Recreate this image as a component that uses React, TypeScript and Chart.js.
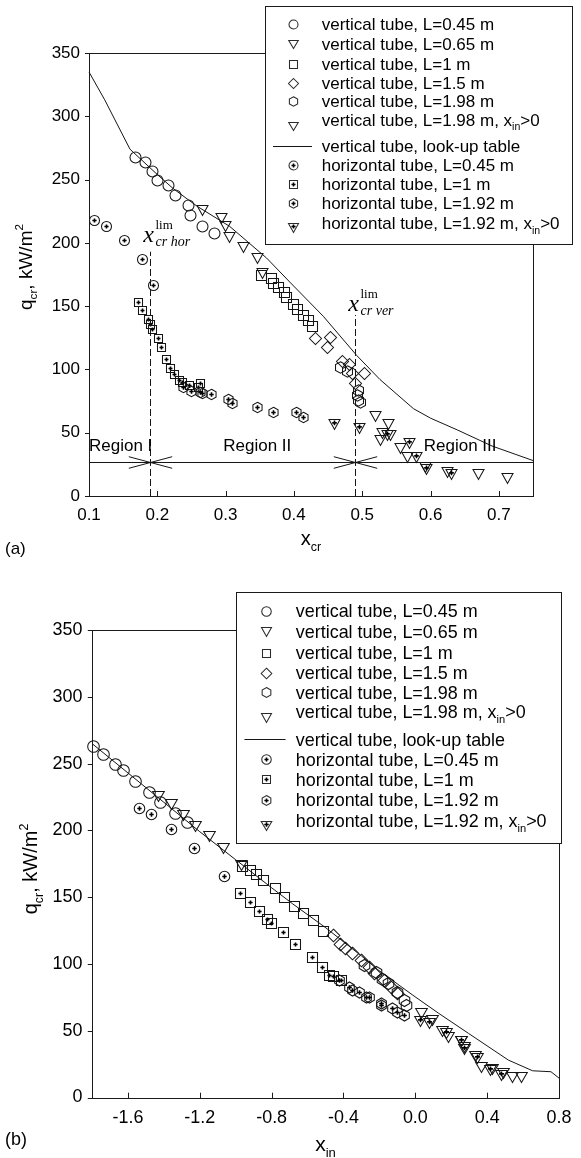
import React, { useEffect, useRef } from 'react';
import { Chart, registerables } from 'chart.js';

Chart.register(...registerables);

const SANS = '"Liberation Sans", Arial, Helvetica, sans-serif';
const SERIF = '"Liberation Serif", "DejaVu Serif", "Times New Roman", serif';
const INK = '#151515';

// ---------------- shared ----------------
const Y_TICKS = [0, 50, 100, 150, 200, 250, 300, 350];

// ---------------- panel (a): q_cr vs x_cr ----------------
const A_X_TICKS = [0.1, 0.2, 0.3, 0.4, 0.5, 0.6, 0.7];
const A_LOOKUP_X = [0.1, 0.123, 0.16, 0.2, 0.223, 0.258, 0.306, 0.36, 0.394, 0.443, 0.492, 0.526, 0.575, 0.6, 0.64, 0.69, 0.75];
const A_LOOKUP_Y = [335, 313, 274, 254, 243, 229, 213, 188, 169, 142, 111, 92, 69, 61.5, 52, 39.5, 28];
const A_V045_X = [0.167, 0.182, 0.192, 0.2, 0.216, 0.226, 0.245, 0.248, 0.266, 0.283];
const A_V045_Y = [268, 264, 257, 250, 246, 238, 230, 222, 213, 208];
const A_V065_X = [0.266, 0.293, 0.299, 0.305, 0.326, 0.346, 0.353];
const A_V065_Y = [226, 220, 213, 205, 197, 188, 176];
const A_V1_X = [0.352, 0.367, 0.37, 0.377, 0.385, 0.389, 0.399, 0.404, 0.414, 0.421, 0.426];
const A_V1_Y = [175, 172, 168, 165, 161, 157, 152, 148, 143, 139, 134];
const A_V15_X = [0.431, 0.448, 0.453, 0.47, 0.48, 0.485, 0.502, 0.49];
const A_V15_Y = [125, 118, 126, 107, 104, 97, 97, 89];
const A_V198_X = [0.468, 0.478, 0.494, 0.492, 0.494, 0.497];
const A_V198_Y = [102, 99, 84, 80, 76, 74.5];
const A_V198IN_X = [0.519, 0.537, 0.529, 0.541, 0.526, 0.556, 0.565, 0.592, 0.624, 0.67, 0.712];
const A_V198IN_Y = [63, 57, 50, 48, 44, 38, 31, 23, 19, 17, 14];
const A_H045_X = [0.107, 0.1245, 0.151, 0.177, 0.193];
const A_H045_Y = [218, 213, 202, 187, 167];
const A_H1_X = [0.172, 0.178, 0.1865, 0.189, 0.1915, 0.201, 0.205, 0.212, 0.218, 0.225, 0.232, 0.2356, 0.2465, 0.26, 0.263];
const A_H1_Y = [153.5, 147, 140, 136, 132, 125, 118, 108, 101, 96, 92, 90, 88, 86, 89];
const A_H192_X = [0.238, 0.25, 0.262, 0.265, 0.279, 0.303, 0.31, 0.346, 0.37, 0.403, 0.414];
const A_H192_Y = [86, 83, 82, 81, 80.6, 76.6, 73.2, 70, 66, 66, 62.7];
const A_H192IN_X = [0.458, 0.496, 0.536, 0.568, 0.578, 0.594, 0.63];
const A_H192IN_Y = [57, 54, 48, 42, 31, 21, 17];

const REGION_BOUNDS = [0.19, 0.49];
const REGION_LINE_Q = 27;
const REGION_LABELS = ['Region I', 'Region II', 'Region III'];
const REGION_LABEL_X = [0.1, 0.2965, 0.59];
const REGION_LABEL_Q = 39;
const LIM_TOP_Q = [193, 143];
const LIM_LABEL_Q = [200.5, 146];
const LIM_SUBS = ['cr hor', 'cr ver'];

// ---------------- panel (b): q_cr vs x_in ----------------
const B_X_TICKS = [-1.6, -1.2, -0.8, -0.4, 0, 0.4, 0.8];
const B_LOOKUP_X = [-1.8, -1.6, -1.4, -1.2, -1.0, -0.8, -0.683, -0.498, -0.3, -0.212, -0.018, 0.13, 0.296, 0.518, 0.653, 0.755, 0.8];
const B_LOOKUP_Y = [265, 243, 221, 199, 178, 157, 145, 127, 106, 96, 77, 63, 48, 28, 20, 19.3, 14.5];
const B_V045_X = [-1.794, -1.741, -1.674, -1.628, -1.56, -1.48, -1.421, -1.338, -1.273];
const B_V045_Y = [263, 257, 250, 245, 237, 228.5, 221.5, 213, 206];
const B_V065_X = [-1.43, -1.362, -1.292, -1.227, -1.15, -1.07, -0.968];
const B_V065_Y = [226, 220, 211.5, 203, 196, 187, 174];
const B_V1_X = [-0.963, -0.922, -0.885, -0.849, -0.784, -0.729, -0.673, -0.627, -0.572, -0.516];
const B_V1_Y = [173, 170, 167, 163, 157, 150, 143, 138, 133, 125];
const B_V15_X = [-0.461, -0.42, -0.39, -0.35, -0.304, -0.258, -0.23, -0.175, -0.137, -0.1];
const B_V15_Y = [122, 115, 112, 108, 103, 98, 93, 88, 83, 78];
const B_V198_X = [-0.285, -0.22, -0.184, -0.15, -0.1, -0.064, -0.054];
const B_V198_Y = [99, 94, 89, 86, 79, 73, 69];
const B_V198IN_X = [0.029, 0.093, 0.149, 0.18, 0.252, 0.272, 0.333, 0.364, 0.426, 0.488, 0.539, 0.59];
const B_V198IN_Y = [63, 58, 49.5, 45.5, 42, 38, 31, 23, 21, 18, 15, 15];
const B_H045_X = [-1.536, -1.473, -1.362, -1.233, -1.065];
const B_H045_Y = [217, 212, 201, 187, 166];
const B_H1_X = [-0.978, -0.922, -0.871, -0.824, -0.802, -0.734, -0.668, -0.577, -0.52, -0.479, -0.461, -0.414];
const B_H1_Y = [153, 146, 140, 134, 131, 124, 115, 105, 98, 92, 91, 88];
const B_H192_X = [-0.424, -0.369, -0.35, -0.313, -0.276, -0.258, -0.193, -0.193, -0.129, -0.1, -0.064];
const B_H192_Y = [88, 83, 80.5, 79, 75.5, 75.5, 70.5, 69, 67, 64, 62];
const B_H192IN_X = [0.025, 0.077, 0.169, 0.252, 0.272, 0.344, 0.415, 0.478];
const B_H192IN_Y = [57, 55.5, 48, 42, 36, 29.3, 20.6, 16.8];

// ---------------- legend ----------------
type Seg = [string, 'n' | 'sub' | 'sup'];
const LEGEND_MARKERS = ['circle', 'tri', 'square', 'diamond', 'hex', 'tri', 'line', 'circleP', 'squareP', 'hexP', 'triP'];
const LEGEND_TEXTS: Seg[][] = [
  [['vertical tube, L=0.45 m', 'n']],
  [['vertical tube, L=0.65 m', 'n']],
  [['vertical tube, L=1 m', 'n']],
  [['vertical tube, L=1.5 m', 'n']],
  [['vertical tube, L=1.98 m', 'n']],
  [['vertical tube, L=1.98 m, x', 'n'], ['in', 'sub'], ['>0', 'n']],
  [['vertical tube, look-up table', 'n']],
  [['horizontal tube, L=0.45 m', 'n']],
  [['horizontal tube, L=1 m', 'n']],
  [['horizontal tube, L=1.92 m', 'n']],
  [['horizontal tube, L=1.92 m, x', 'n'], ['in', 'sub'], ['>0', 'n']],
];
const LEGEND_ROW_Y = [18, 37.5, 57.5, 76.5, 95, 113.5, 139.5, 158.5, 177.5, 197, 217];
const LEGEND_MARK_DY = [0, 0, 0, 0, 0, 6, 0, 0, 0, 0, 5];

const MARK_SIZE: Record<string, number> = {
  circle: 11, tri: 11, square: 10, diamond: 12, hex: 11.5,
  circleP: 10, squareP: 9.5, hexP: 10.5, triP: 11,
};
const LEG_MARK_SIZE: Record<string, number> = {
  circle: 9, tri: 9.5, square: 8.5, diamond: 10, hex: 9.5,
  circleP: 9, squareP: 8.5, hexP: 9.5, triP: 10,
};

function makeMarker(kind: string, size: number, color: string): HTMLCanvasElement {
  const plus = kind.endsWith('P');
  const shape = plus ? kind.slice(0, -1) : kind;
  let d = Math.ceil(size + 5);
  if (d % 2 === 0) d += 1;
  const cv = document.createElement('canvas');
  cv.width = d;
  cv.height = d;
  const g = cv.getContext('2d')!;
  const c = d / 2;
  const r = size / 2;
  let pc = c;
  g.strokeStyle = color;
  g.lineWidth = 1.05;
  g.beginPath();
  if (shape === 'circle') {
    g.arc(c, c, r, 0, Math.PI * 2);
  } else if (shape === 'square') {
    const h = Math.round(r * 0.92);
    g.rect(c - h, c - h, 2 * h, 2 * h);
  } else if (shape === 'diamond') {
    const h = r;
    g.moveTo(c, c - h); g.lineTo(c + h, c); g.lineTo(c, c + h); g.lineTo(c - h, c); g.closePath();
  } else if (shape === 'hex') {
    for (let k = 0; k < 6; k++) {
      const a = (-90 + 60 * k) * Math.PI / 180;
      const px = c + r * Math.cos(a);
      const py = c + r * Math.sin(a);
      if (k === 0) g.moveTo(px, py); else g.lineTo(px, py);
    }
    g.closePath();
  } else if (shape === 'tri') {
    const w = size;
    const h = Math.round(w * 0.87);
    const top = c - Math.round(h / 2);
    g.moveTo(c - w / 2, top); g.lineTo(c + w / 2, top); g.lineTo(c, top + h); g.closePath();
    pc = top + h / 3;
  }
  g.stroke();
  if (plus) {
    const a = Math.max(2, size * 0.21);
    g.strokeStyle = '#000';
    g.lineWidth = 1.6;
    g.beginPath();
    g.moveTo(c - a, pc); g.lineTo(c + a, pc);
    g.moveTo(c, pc - a); g.lineTo(c, pc + a);
    g.stroke();
  }
  return cv;
}

function drawRich(ctx: CanvasRenderingContext2D, segs: Seg[], x: number, baseY: number, size: number, family: string, draw = true): number {
  let cx = x;
  ctx.textAlign = 'left';
  ctx.textBaseline = 'alphabetic';
  for (const [t, k] of segs) {
    const fs = k === 'n' ? size : size * 0.62;
    const dy = k === 'sub' ? size * 0.28 : k === 'sup' ? -size * 0.45 : 0;
    ctx.font = `${fs}px ${family}`;
    if (draw) ctx.fillText(t, cx, baseY + dy);
    cx += ctx.measureText(t).width;
  }
  return cx - x;
}

type Series = { x: number[]; y: number[]; m: string };

type Panel = {
  s: number;
  area: { left: number; top: number; right: number; bottom: number };
  xMin: number; xMax: number; xTicks: number[];
  lookupX: number[]; lookupY: number[];
  series: Series[];
  legend: { left: number; top: number; right: number; bottom: number };
  xTitle: Seg[]; xTitleBase: number;
  yTitleX: number; yTitleY: number;
  label: string; labelX: number; labelBase: number;
  regions: boolean;
};

const H = 579;

const PANEL_A: Panel = {
  s: 1,
  area: { left: 89, top: 53, right: 533, bottom: 496 },
  xMin: 0.1, xMax: 0.75, xTicks: A_X_TICKS,
  lookupX: A_LOOKUP_X, lookupY: A_LOOKUP_Y,
  series: [
    { x: A_V045_X, y: A_V045_Y, m: 'circle' },
    { x: A_V065_X, y: A_V065_Y, m: 'tri' },
    { x: A_V1_X, y: A_V1_Y, m: 'square' },
    { x: A_V15_X, y: A_V15_Y, m: 'diamond' },
    { x: A_V198_X, y: A_V198_Y, m: 'hex' },
    { x: A_V198IN_X, y: A_V198IN_Y, m: 'tri' },
    { x: A_H045_X, y: A_H045_Y, m: 'circleP' },
    { x: A_H1_X, y: A_H1_Y, m: 'squareP' },
    { x: A_H192_X, y: A_H192_Y, m: 'hexP' },
    { x: A_H192IN_X, y: A_H192IN_Y, m: 'triP' },
  ],
  legend: { left: 265, top: 6, right: 572, bottom: 244 },
  xTitle: [['x', 'n'], ['cr', 'sub']], xTitleBase: 545,
  yTitleX: 25, yTitleY: 267,
  label: '(a)', labelX: 5, labelBase: 554,
  regions: true,
};

const PANEL_B: Panel = {
  s: 1.055,
  area: { left: 92, top: 51, right: 561, bottom: 518.5 },
  xMin: -1.8, xMax: 0.8, xTicks: B_X_TICKS,
  lookupX: B_LOOKUP_X, lookupY: B_LOOKUP_Y,
  series: [
    { x: B_V045_X, y: B_V045_Y, m: 'circle' },
    { x: B_V065_X, y: B_V065_Y, m: 'tri' },
    { x: B_V1_X, y: B_V1_Y, m: 'square' },
    { x: B_V15_X, y: B_V15_Y, m: 'diamond' },
    { x: B_V198_X, y: B_V198_Y, m: 'hex' },
    { x: B_V198IN_X, y: B_V198IN_Y, m: 'tri' },
    { x: B_H045_X, y: B_H045_Y, m: 'circleP' },
    { x: B_H1_X, y: B_H1_Y, m: 'squareP' },
    { x: B_H192_X, y: B_H192_Y, m: 'hexP' },
    { x: B_H192IN_X, y: B_H192IN_Y, m: 'triP' },
  ],
  legend: { left: 236, top: 13, right: 561, bottom: 264 },
  xTitle: [['x', 'n'], ['in', 'sub']], xTitleBase: 572,
  yTitleX: 30, yTitleY: 290,
  label: '(b)', labelX: 5, labelBase: 566,
  regions: false,
};

function buildConfig(p: Panel): any {
  const s = p.s;
  const marks: Record<string, HTMLCanvasElement> = {};
  const legMarks: Record<string, HTMLCanvasElement> = {};
  Object.keys(MARK_SIZE).forEach((k) => {
    marks[k] = makeMarker(k, MARK_SIZE[k] * s, INK);
    legMarks[k] = makeMarker(k, LEG_MARK_SIZE[k] * s, '#2a2a2a');
  });
  const Y_AXIS_W = 50;
  const X_AXIS_H = 40;
  const tickFont = { family: SANS, size: 17 * s };

  const datasets: any[] = [
    {
      data: p.lookupX.map((x, i) => ({ x, y: p.lookupY[i] })),
      showLine: true,
      borderColor: INK,
      borderWidth: 1,
      pointRadius: 0,
      fill: false,
      tension: 0,
      clip: false,
    },
    ...p.series.map((sr) => ({
      data: sr.x.map((x, i) => ({ x, y: sr.y[i] })),
      pointRadius: 0,
      showLine: false,
      clip: false,
    })),
  ];

  const plugin = {
    id: 'panelDecor',
    afterDatasetsDraw(chart: any) {
      const ctx: CanvasRenderingContext2D = chart.ctx;
      const xs = chart.scales.x;
      const ys = chart.scales.y;
      const a = chart.chartArea;
      ctx.save();
      // markers at the element positions computed by the library
      p.series.forEach((sr, i) => {
        const img = marks[sr.m];
        const half = (img.width - 1) / 2;
        chart.getDatasetMeta(i + 1).data.forEach((el: any) => {
          ctx.drawImage(img, Math.round(el.x) - half, Math.round(el.y) - half);
        });
      });
      ctx.strokeStyle = INK;
      ctx.fillStyle = '#000';
      ctx.lineWidth = 1;
      // region annotations
      if (p.regions) {
        const yl = Math.round(ys.getPixelForValue(REGION_LINE_Q)) + 0.5;
        ctx.beginPath();
        ctx.moveTo(xs.getPixelForValue(p.xMin), yl);
        ctx.lineTo(xs.getPixelForValue(p.xMax), yl);
        ctx.stroke();
        REGION_BOUNDS.forEach((b, i) => {
          const xb = Math.round(xs.getPixelForValue(b)) + 0.5;
          ctx.beginPath();
          ctx.moveTo(xb - 21.7, yl - 5.8); ctx.lineTo(xb + 21.7, yl + 5.8);
          ctx.moveTo(xb - 21.7, yl + 5.8); ctx.lineTo(xb + 21.7, yl - 5.8);
          ctx.stroke();
          ctx.setLineDash([7, 3]);
          ctx.beginPath();
          ctx.moveTo(xb, ys.getPixelForValue(0));
          ctx.lineTo(xb, ys.getPixelForValue(LIM_TOP_Q[i]));
          ctx.stroke();
          ctx.setLineDash([]);
          const by = ys.getPixelForValue(LIM_LABEL_Q[i]);
          ctx.font = `italic 24px ${SERIF}`;
          ctx.textAlign = 'center';
          ctx.textBaseline = 'alphabetic';
          ctx.fillText('x', xb - 2, by);
          ctx.textAlign = 'left';
          ctx.font = `13px ${SERIF}`;
          ctx.fillText('lim', xb + 5, by - 13);
          ctx.font = `italic 14px ${SERIF}`;
          ctx.fillText(LIM_SUBS[i], xb + 5, by + 4);
        });
        ctx.font = `17px ${SANS}`;
        ctx.textAlign = 'left';
        ctx.textBaseline = 'middle';
        REGION_LABELS.forEach((t, i) => {
          ctx.fillText(t, xs.getPixelForValue(REGION_LABEL_X[i]), ys.getPixelForValue(REGION_LABEL_Q));
        });
      }
      // frame
      ctx.strokeStyle = '#1a1a1a';
      ctx.strokeRect(Math.round(a.left) + 0.5, Math.round(a.top) + 0.5, Math.round(a.right - a.left), Math.round(a.bottom - a.top));
      // ticks: x inward, y outward
      ctx.beginPath();
      p.xTicks.forEach((v) => {
        const px = Math.round(xs.getPixelForValue(v)) + 0.5;
        if (px < a.left + 1 || px > a.right - 1) return;
        ctx.moveTo(px, Math.round(a.bottom));
        ctx.lineTo(px, Math.round(a.bottom) - 5 * s);
      });
      Y_TICKS.forEach((v) => {
        const py = Math.round(ys.getPixelForValue(v)) + 0.5;
        ctx.moveTo(Math.round(a.left), py);
        ctx.lineTo(Math.round(a.left) - 4 * s, py);
      });
      ctx.stroke();
      ctx.restore();
    },
    afterDraw(chart: any) {
      const ctx: CanvasRenderingContext2D = chart.ctx;
      const a = chart.chartArea;
      ctx.save();
      // legend
      const L = p.legend;
      ctx.fillStyle = '#fff';
      ctx.fillRect(L.left, L.top, L.right - L.left, L.bottom - L.top);
      ctx.strokeStyle = '#1a1a1a';
      ctx.lineWidth = 1;
      ctx.strokeRect(Math.round(L.left) + 0.5, Math.round(L.top) + 0.5, Math.round(L.right - L.left), Math.round(L.bottom - L.top));
      ctx.fillStyle = '#000';
      const fs = 17 * s;
      LEGEND_TEXTS.forEach((segs, i) => {
        const cy = L.top + LEGEND_ROW_Y[i] * s;
        const mk = LEGEND_MARKERS[i];
        if (mk === 'line') {
          ctx.strokeStyle = INK;
          ctx.beginPath();
          ctx.moveTo(L.left + 8 * s, Math.round(cy) + 0.5);
          ctx.lineTo(L.left + 47 * s, Math.round(cy) + 0.5);
          ctx.stroke();
        } else {
          const im = legMarks[mk];
          const half = (im.width - 1) / 2;
          ctx.drawImage(im, Math.round(L.left + 28 * s) - half, Math.round(cy + LEGEND_MARK_DY[i] * s) - half);
        }
        drawRich(ctx, segs, L.left + 56.7 * s, cy + fs * 0.36, fs, SANS);
      });
      // x title
      const tfs = 20 * s;
      const w = drawRich(ctx, p.xTitle, 0, 0, tfs, SANS, false);
      drawRich(ctx, p.xTitle, (a.left + a.right) / 2 - w / 2, p.xTitleBase, tfs, SANS);
      // y title
      const ySegs: Seg[] = [['q', 'n'], ['cr', 'sub'], [', kW/m', 'n'], ['2', 'sup']];
      const yfs = 19 * s;
      const wy = drawRich(ctx, ySegs, 0, 0, yfs, SANS, false);
      ctx.translate(p.yTitleX, p.yTitleY);
      ctx.rotate(-Math.PI / 2);
      drawRich(ctx, ySegs, -wy / 2, yfs * 0.36, yfs, SANS);
      ctx.setTransform(1, 0, 0, 1, 0, 0);
      // panel label
      ctx.font = `${17 * s}px ${SANS}`;
      ctx.textAlign = 'left';
      ctx.textBaseline = 'alphabetic';
      ctx.fillText(p.label, p.labelX, p.labelBase);
      ctx.restore();
    },
  };

  return {
    type: 'scatter',
    data: { datasets },
    options: {
      animation: false,
      responsive: false,
      maintainAspectRatio: false,
      events: [],
      layout: {
        padding: {
          left: p.area.left - Y_AXIS_W,
          right: 581 - p.area.right,
          top: p.area.top,
          bottom: H - p.area.bottom - X_AXIS_H,
        },
      },
      plugins: { legend: { display: false }, tooltip: { enabled: false } },
      scales: {
        x: {
          type: 'linear',
          min: p.xMin,
          max: p.xMax,
          afterBuildTicks: (sc: any) => { sc.ticks = p.xTicks.map((v) => ({ value: v })); },
          afterFit: (sc: any) => { sc.height = X_AXIS_H; },
          ticks: {
            callback: (v: any) => Number(v).toFixed(1),
            font: tickFont,
            color: '#000',
            padding: 9 * s,
            maxRotation: 0,
            autoSkip: false,
          },
          grid: { display: false, drawTicks: false },
          border: { display: false },
        },
        y: {
          type: 'linear',
          min: 0,
          max: 350,
          afterBuildTicks: (sc: any) => { sc.ticks = Y_TICKS.map((v) => ({ value: v })); },
          afterFit: (sc: any) => { sc.width = Y_AXIS_W; },
          ticks: {
            callback: (v: any) => String(v),
            font: tickFont,
            color: '#000',
            padding: 9 * s,
            autoSkip: false,
          },
          grid: { display: false, drawTicks: false },
          border: { display: false },
        },
      },
    },
    plugins: [plugin],
  };
}

export default function App() {
  const refA = useRef<HTMLCanvasElement>(null);
  const refB = useRef<HTMLCanvasElement>(null);
  useEffect(() => {
    document.body.style.margin = '0';
    const ca = new Chart(refA.current!, buildConfig(PANEL_A));
    const cb = new Chart(refB.current!, buildConfig(PANEL_B));
    return () => {
      ca.destroy();
      cb.destroy();
    };
  }, []);
  return (
    <div style={{ position: 'relative', width: 581, height: 1158, background: '#fff' }}>
      <canvas ref={refA} width={581} height={H} style={{ position: 'absolute', left: 0, top: 0, width: 581, height: H }} />
      <canvas ref={refB} width={581} height={H} style={{ position: 'absolute', left: 0, top: H, width: 581, height: H }} />
    </div>
  );
}
